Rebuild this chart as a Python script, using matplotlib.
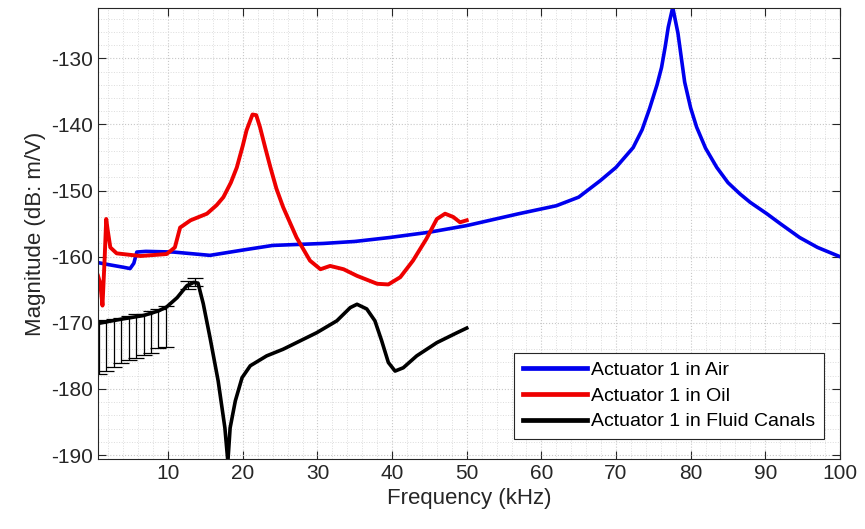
import numpy as np
import matplotlib.pyplot as plt
from matplotlib.ticker import MultipleLocator

plt.rcParams['font.family'] = ['Liberation Sans', 'DejaVu Sans']
plt.rcParams['axes.unicode_minus'] = False

# actuator 1 in air
f_air = [0.6, 2, 4, 4.9, 5.4, 5.8, 7, 10.7, 15.6, 20, 24, 30.8, 35, 39.7, 45, 50,
         57, 62, 65, 67.9, 70, 72.3, 73.5, 74.5, 75.5, 76.1, 76.6, 77.0, 77.6,
         78.3, 78.7, 79.2, 80, 80.8, 82, 83.5, 85, 86.6, 88, 90.2, 92, 94.6, 97, 100]
mag_air = [-160.9, -161.2, -161.6, -161.8, -161, -159.3, -159.2, -159.3, -159.8,
           -159, -158.3, -158.0, -157.7, -157.1, -156.3, -155.3, -153.5, -152.3,
           -151, -148.5, -146.5, -143.5, -140.8, -137.6, -134, -131.4, -128.2,
           -125.3, -122.3, -126.2, -129.5, -133.6, -137.5, -140.4, -143.6, -146.5,
           -148.8, -150.5, -151.8, -153.5, -155.0, -157.1, -158.6, -160]

# actuator 1 in oil
f_oil = [0.6, 0.9, 1.2, 1.5, 1.7, 1.9, 2.25, 3.1, 6.3, 9.8, 10.9, 11.6, 13, 15.2,
         16.5, 17.4, 18.4, 19.2, 20.0, 20.5, 21.3, 21.8, 22.3, 23.0, 23.7, 24.5,
         25.4, 27.2, 29, 30.4, 31.7, 33.5, 35.3, 38, 39.5, 41.1, 42.8, 44.6, 46,
         47.1, 48.2, 49.1, 50]
mag_oil = [-162.9, -164, -167.4, -160, -154.3, -156, -158.6, -159.5, -159.9,
           -159.6, -158.6, -155.6, -154.5, -153.5, -152.2, -151, -148.8, -146.5,
           -143.2, -140.9, -138.5, -138.6, -140.4, -143.5, -146.5, -149.7, -152.5,
           -157.1, -160.6, -161.9, -161.4, -161.9, -162.9, -164.1, -164.2, -163.1,
           -160.6, -157.3, -154.3, -153.5, -154, -154.8, -154.5]

# actuator 1 in fluid canals
f_fc = [0.6, 2, 4, 6.7, 8.7, 9.8, 11.2, 12.5, 13.4, 14.0, 14.7, 15.6, 16.7, 17.6,
        18.0, 18.3, 19.0, 19.9, 21.0, 23.2, 25.4, 29.9, 32.6, 34.4, 35.3, 36.6,
        37.7, 38.6, 39.5, 40.4, 41.5, 43.3, 46, 48.7, 50]
mag_fc = [-170.1, -169.8, -169.4, -168.9, -168.2, -167.6, -166.2, -164.4, -163.9,
          -164.0, -167.1, -172.2, -178.8, -185.9, -191, -185.9, -181.8, -178.3,
          -176.5, -175.0, -174.0, -171.5, -169.7, -167.7, -167.2, -167.9, -169.7,
          -172.7, -176.0, -177.3, -176.8, -175.0, -173.0, -171.5, -170.8]

# error bars on the fluid canal measurement
f_err = [0.7, 1.7, 2.7, 3.7, 4.7, 5.7, 6.7, 7.7, 8.7, 9.7, 12.7, 13.6]
mag_err = [-170.1, -169.9, -169.7, -169.5, -169.2, -169.0, -168.9, -168.5, -168.2,
           -167.7, -164.3, -163.9]
err_lo = [7.6, 7.4, 7.0, 6.6, 6.4, 6.3, 5.9, 6.0, 5.6, 5.9, 0.6, 0.6]
err_hi = [0.3, 0.3, 0.3, 0.3, 0.3, 0.3, 0.3, 0.3, 0.3, 0.3, 0.6, 0.6]

fig = plt.figure(figsize=(8.65, 5.29), dpi=100)
ax = fig.add_axes([0.1133, 0.1323, 0.8577, 0.8525])

ax.plot(f_air, mag_air, color='#0000ee', lw=2.6, label='Actuator 1 in Air')
ax.plot(f_oil, mag_oil, color='#ee0000', lw=2.8, label='Actuator 1 in Oil')
ax.plot(f_fc, mag_fc, color='black', lw=2.6, label='Actuator 1 in Fluid Canals')
ax.errorbar(f_err, mag_err, yerr=[err_lo, err_hi], fmt='none', ecolor='black',
            elinewidth=0.9, capsize=6, capthick=0.9)

ax.set_xlim(0.6, 100)
ax.set_ylim(-190.6, -122.4)
ax.xaxis.set_major_locator(MultipleLocator(10))
ax.xaxis.set_minor_locator(MultipleLocator(2))
ax.yaxis.set_major_locator(MultipleLocator(10))
ax.yaxis.set_minor_locator(MultipleLocator(2))
ax.grid(which='major', color='#c8c8c8', ls=':', lw=0.8)
ax.grid(which='minor', color='#dcdcdc', ls=':', lw=0.7)
ax.set_axisbelow(True)

ax.tick_params(which='major', direction='in', top=True, right=True, length=6,
               labelsize=15, colors='#262626', width=0.8)
ax.tick_params(which='minor', length=0)
for s in ax.spines.values():
    s.set_color('#262626')
    s.set_linewidth(0.8)

ax.set_xlabel('Frequency (kHz)', fontsize=16, color='#262626')
ax.set_ylabel('Magnitude (dB: m/V)', fontsize=16, color='#262626')

leg = ax.legend(loc='lower right', bbox_to_anchor=(0.978, 0.044), borderaxespad=0,
                fontsize=14, handlelength=3.3, handletextpad=0.2, labelspacing=0.42,
                borderpad=0.45, fancybox=False, edgecolor='#262626', framealpha=1)
for h in leg.get_lines():
    h.set_linewidth(3.4)
leg.get_frame().set_linewidth(0.8)

fig.savefig('out.png', dpi=100)
